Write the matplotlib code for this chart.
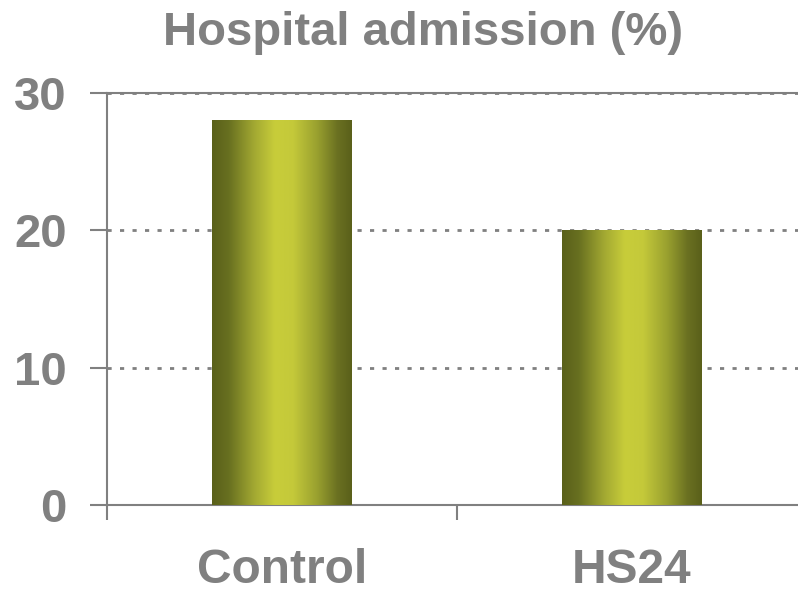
import numpy as np
import matplotlib
matplotlib.use("Agg")
import matplotlib.pyplot as plt
from matplotlib.colors import LinearSegmentedColormap

categories = ["Control", "HS24"]
values = [28, 20]
yticks = [0, 10, 20, 30]

GRAY = "#808080"
plt.rcParams["font.family"] = ["Liberation Sans", "DejaVu Sans"]
plt.rcParams["font.weight"] = "bold"

# olive gradient: dark edges, bright centre
bar_cmap = LinearSegmentedColormap.from_list("olive", [
    (0.00, "#5a601a"), (0.12, "#687020"), (0.30, "#a2a832"),
    (0.45, "#c8cd3a"), (0.58, "#c4c93a"), (0.75, "#9aa12f"),
    (0.90, "#6a7021"), (1.00, "#5a601a")])

fig = plt.figure(figsize=(7.98, 5.97), dpi=100)
ax = fig.add_axes([107 / 798, 92 / 597, 700 / 798, 412 / 597])

bar_w = 0.4
grad = np.linspace(0, 1, 256).reshape(1, -1)
x = np.arange(len(categories))
for xi, v in zip(x, values):
    ax.imshow(grad, cmap=bar_cmap, aspect="auto", interpolation="bicubic",
              extent=[xi - bar_w / 2, xi + bar_w / 2, 0, v], zorder=3)

ax.set_xlim(-0.5, 1.5)
ax.set_ylim(0, 30)

ax.set_yticks(yticks)
ax.set_yticklabels([str(t) for t in yticks])
ax.set_xticks([-0.5, 0.5, 1.5])
ax.set_xticklabels([])
ax.set_xticks(x, minor=True)
ax.set_xticklabels(categories, minor=True)

ax.tick_params(axis="y", length=12, width=1.5, color=GRAY, pad=17,
               labelsize=34, labelcolor=GRAY)
ax.tick_params(axis="x", which="major", length=11, width=1.5, color=GRAY)
ax.tick_params(axis="x", which="minor", length=0, pad=31,
               labelsize=34.5, labelcolor=GRAY)

for t in yticks[1:]:
    ax.axhline(t, color=GRAY, lw=2, dashes=(1.5, 3), zorder=1)

for s in ["left", "bottom", "top"]:
    ax.spines[s].set_color(GRAY)
    ax.spines[s].set_linewidth(1.5)
ax.spines["right"].set_visible(False)

fig.text(0.530, 0.945, "Hospital admission (%)", ha="center", va="center",
         fontsize=34, fontweight="bold", color=GRAY)

fig.savefig("out.png", dpi=100)
